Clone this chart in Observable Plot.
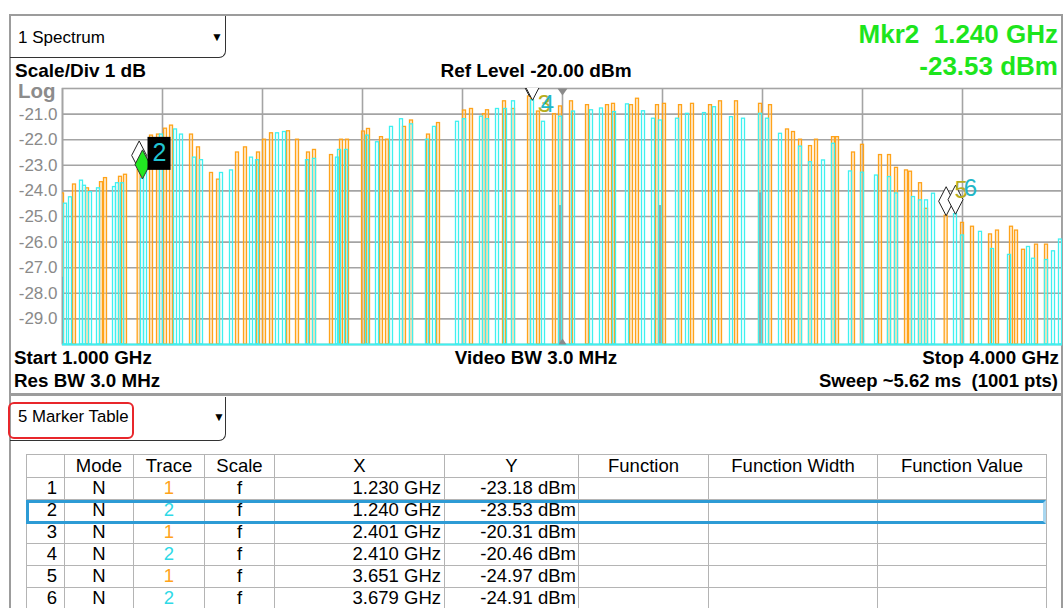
<!DOCTYPE html>
<html><head><meta charset="utf-8">
<script src="https://cdn.jsdelivr.net/npm/d3@7"></script>
<script src="https://cdn.jsdelivr.net/npm/@observablehq/plot@0.6"></script>
<style>
body{margin:0;background:#fff;font-family:"Liberation Sans",Arial,sans-serif;}
#page{position:relative;width:1063px;height:608px;overflow:hidden;background:#fff;}
.t{position:absolute;white-space:pre;line-height:1;color:#000;}
.b{font-weight:bold;}
#chart{position:absolute;left:0;top:80px;}
table.mk{position:absolute;left:26px;top:454px;border-collapse:collapse;table-layout:fixed;width:1020px;font-size:18.5px;}
table.mk td{border:1.5px solid #b4b4b4;padding:0;height:20.9px;line-height:20.9px;text-align:center;overflow:hidden;white-space:nowrap;}
table.mk tr.h td{height:22px;}
table.mk td.r{text-align:right;padding-right:3px;}
table.mk td.y{text-align:right;padding-right:2px;}
table.mk td.i{text-align:right;padding-right:7px;}
</style></head><body><div id="page">
<div style="position:absolute;left:9px;top:14px;width:1050px;height:377px;border:2px solid #9c9c9c;border-bottom-width:3px;"></div>
<div style="position:absolute;left:9px;top:394px;width:1050px;height:230px;border-left:2px solid #9c9c9c;border-right:2px solid #9c9c9c;"></div>
<div style="position:absolute;left:10px;top:16px;width:215px;height:41px;border-right:1px solid #333;border-bottom:1px solid #333;border-bottom-right-radius:7px;"></div>
<div class="t" style="left:18px;top:28.5px;font-size:17px;">1 Spectrum</div>
<div class="t" style="left:211px;top:31px;font-size:12px;">▼</div>
<div class="t b" style="left:15px;top:61px;font-size:19px;">Scale/Div 1 dB</div>
<div class="t b" style="left:336px;width:400px;text-align:center;top:61px;font-size:19px;">Ref Level -20.00 dBm</div>
<div class="t b" style="right:5px;top:21px;font-size:26px;color:#1de51d;">Mkr2  1.240 GHz</div>
<div class="t b" style="right:5px;top:53px;font-size:26px;color:#1de51d;">-23.53 dBm</div>
<div class="t b" style="left:18px;top:80.6px;font-size:20.5px;color:#8c8c8c;">Log</div>
<div class="t b" style="left:14px;top:349px;font-size:18.8px;">Start 1.000 GHz</div>
<div class="t b" style="left:336px;width:400px;text-align:center;top:349px;font-size:18.8px;">Video BW 3.0 MHz</div>
<div class="t b" style="right:4px;top:349px;font-size:18.8px;">Stop 4.000 GHz</div>
<div class="t b" style="left:14px;top:372px;font-size:18.8px;">Res BW 3.0 MHz</div>
<div class="t b" style="right:5px;top:372px;font-size:18.5px;">Sweep ~5.62 ms  (1001 pts)</div>
<div id="chart"></div>
<div style="position:absolute;left:10px;top:397px;width:215px;height:43px;border-right:1px solid #333;border-bottom:1px solid #333;border-bottom-right-radius:7px;"></div>
<div style="position:absolute;left:7.5px;top:402px;width:122px;height:33px;border:2px solid #e8262b;border-radius:6px;"></div>
<div class="t" style="left:18px;top:409px;font-size:16.8px;">5 Marker Table</div>
<div class="t" style="left:213px;top:411px;font-size:12px;">▼</div>
<table class="mk" id="mk"></table>
<div style="position:absolute;left:26px;top:499.5px;width:1014px;height:18px;border:3px solid #2d9bd5;border-right-color:#a9d7f0;"></div>
</div>
<script>
// ---- Trace 1 (orange) bursts: centre frequency (GHz) and peak level (dBm)
const trace1Freq = [1.000,1.036,1.075,1.117,1.129,1.174,1.189,1.230,1.267,1.288,1.309,1.327,1.387,1.408,1.447,1.468,1.525,1.549,1.588,1.606,1.627,1.678,1.705,1.738,1.756,1.807,1.837,1.855,1.903,1.918,1.957,1.975,2.026,2.047,2.098,2.128,2.206,2.227,2.266,2.275,2.326,2.353,2.401,2.428,2.476,2.494,2.527,2.575,2.635,2.653,2.707,2.725,2.785,2.806,2.854,2.890,2.944,2.974,3.022,3.094,3.124,3.175,3.193,3.214,3.244,3.262,3.313,3.325,3.373,3.400,3.454,3.481,3.502,3.532,3.544,3.574,3.592,3.651,3.700,3.730,3.784,3.805,3.847,3.862,3.883,3.922,3.952];
const trace1Level = [-24.1,-23.75,-23.9,-23.66,-23.5,-23.45,-23.37,-23.18,-21.84,-21.8,-21.57,-21.45,-21.8,-22.3,-23.3,-23.56,-22.5,-22.3,-22.5,-22.0,-21.75,-21.67,-22.0,-22.5,-22.4,-22.6,-22.0,-22.0,-21.68,-21.58,-21.9,-22.0,-21.5,-21.25,-21.8,-21.35,-20.86,-20.8,-21.0,-20.85,-20.5,-20.8,-20.31,-20.9,-21.0,-20.7,-20.5,-20.65,-20.65,-20.6,-20.65,-20.4,-20.65,-20.6,-20.65,-20.6,-20.65,-20.5,-20.5,-20.6,-20.65,-21.6,-21.7,-22.0,-22.25,-22.0,-21.9,-21.9,-22.5,-22.2,-22.6,-22.6,-23.1,-23.2,-23.25,-23.7,-24.7,-24.97,-25.25,-25.4,-25.7,-25.55,-25.4,-25.55,-26.3,-26.1,-26.1];
// ---- Trace 2 (cyan) bursts
const trace2Freq = [1.009,1.024,1.057,1.066,1.084,1.108,1.156,1.165,1.180,1.240,1.249,1.297,1.339,1.357,1.396,1.417,1.477,1.507,1.567,1.585,1.645,1.666,1.735,1.756,1.825,1.831,1.852,1.915,1.945,1.987,2.017,2.047,2.095,2.116,2.185,2.206,2.257,2.275,2.305,2.329,2.353,2.410,2.443,2.494,2.533,2.587,2.617,2.656,2.695,2.743,2.773,2.794,2.845,2.875,2.926,2.956,3.007,3.043,3.094,3.115,3.154,3.214,3.244,3.283,3.313,3.364,3.400,3.442,3.481,3.502,3.553,3.574,3.592,3.613,3.679,3.700,3.754,3.790,3.841,3.898,3.913,3.952,3.973,3.994];
const trace2Level = [-24.5,-24.25,-23.6,-23.8,-24.05,-23.9,-23.85,-23.7,-23.7,-23.53,-22.88,-21.8,-21.6,-21.8,-22.7,-22.8,-23.3,-23.2,-22.7,-22.8,-21.75,-21.7,-22.8,-22.75,-22.7,-22.4,-22.4,-21.84,-22.1,-21.5,-21.2,-21.4,-22.0,-21.5,-21.3,-21.2,-21.1,-21.2,-20.8,-20.8,-20.5,-20.46,-21.3,-21.1,-20.9,-20.85,-20.78,-20.92,-20.62,-20.89,-21.18,-21.25,-21.18,-20.99,-20.96,-20.73,-21.12,-21.18,-20.99,-21.18,-21.77,-22.27,-22.88,-22.81,-22.16,-23.24,-23.29,-23.4,-23.46,-24.1,-24.24,-24.37,-24.37,-24.11,-24.91,-25.74,-25.6,-26.27,-26.5,-26.19,-26.65,-26.7,-26.36,-25.9];
// ---- Trace 3 (gray) residual bursts
const trace3Freq = [1.000,2.494,2.794,3.094];
const trace3Level = [-27.4,-24.6,-24.6,-24.1];
// ---- Markers
const markerNo = [1,2,3,4,5,6];
const markerMode = ["N","N","N","N","N","N"];
const markerTrace = [1,2,1,2,1,2];
const markerScale = ["f","f","f","f","f","f"];
const markerX = [1.230,1.240,2.401,2.410,3.651,3.679];
const markerY = [-23.18,-23.53,-20.31,-20.46,-24.97,-24.91];
const activeMarker = 2;
const hiddenLabels = [1]; // covered by the active marker's label box
const centerFreq = 2.5;
// ---- Axes
const xGridTicks = [1.0,1.3,1.6,1.9,2.2,2.5,2.8,3.1,3.4,3.7,4.0];
const yTicks = [-21,-22,-23,-24,-25,-26,-27,-28,-29];
const yDomain = [-30,-20];
const tableHeaders = ["","Mode","Trace","Scale","X","Y","Function","Function Width","Function Value"];

const ORANGE="#ffa31a", ORANGE_FILL="#ffd08a", CYAN="#3ff0f0", GRAY="#9a9a9a", GRID="#a4a4a4";
const HW = 0.0045;

const t1 = trace1Freq.map((f,i)=>({f, L:trace1Level[i]}));
const t2 = trace2Freq.map((f,i)=>({f, L:trace2Level[i]}));
const t3 = trace3Freq.map((f,i)=>({f, L:trace3Level[i]}));
const mk = markerNo.map((n,i)=>({n, trace:markerTrace[i], x:markerX[i], y:markerY[i]}));

const tallDiamond = {draw(ctx){ const h=14.5, w=7.5; ctx.moveTo(0,-h); ctx.lineTo(w,0); ctx.lineTo(0,h); ctx.lineTo(-w,0); ctx.closePath(); }};
const labelBox = {draw(ctx){ ctx.moveTo(5,-42); ctx.lineTo(28,-42); ctx.lineTo(28,-9); ctx.lineTo(5,-9); ctx.closePath(); }};
const downTri = {draw(ctx){ ctx.moveTo(-5,0); ctx.lineTo(5,0); ctx.lineTo(0,7); ctx.closePath(); }};
const upTri = {draw(ctx){ ctx.moveTo(-4,0); ctx.lineTo(4,0); ctx.lineTo(0,-6); ctx.closePath(); }};

const plot = Plot.plot({
  width: 1063, height: 270,
  marginLeft: 62, marginRight: 1, marginTop: 8, marginBottom: 6,
  x: {domain: [1,4], axis: null},
  y: {domain: yDomain, axis: null},
  style: {background: "transparent", fontFamily: "Liberation Sans, Arial, sans-serif", overflow: "visible"},
  marks: [
    Plot.gridX(xGridTicks, {stroke: GRID, strokeOpacity: 1, strokeWidth: 1.6}),
    Plot.gridY(yTicks, {stroke: GRID, strokeOpacity: 1, strokeWidth: 1.6}),
    Plot.frame({stroke: GRID, strokeWidth: 1.6}),
    Plot.axisY(yTicks, {tickSize: 0, tickPadding: 5, fontSize: 17, fill: "#8a8a8a", tickFormat: d => d.toFixed(1), label: null}),
    Plot.rect(t1, {x1: d => d.f - HW, x2: d => d.f + HW, y1: -30, y2: "L", fill: ORANGE_FILL, fillOpacity: 0.4, stroke: ORANGE, strokeWidth: 1.3, clip: true}),
    Plot.rect(t3, {x1: d => d.f - HW/2, x2: d => d.f + HW/2, y1: -30, y2: "L", fill: "none", stroke: GRAY, strokeWidth: 1.3, clip: true}),
    Plot.rect(t2, {x1: d => d.f - HW, x2: d => d.f + HW, y1: -30, y2: "L", fill: "none", stroke: CYAN, strokeWidth: 1.3, clip: true}),
    Plot.ruleY([yDomain[0]], {stroke: CYAN, strokeWidth: 2}),
    Plot.dot([centerFreq], {x: d => d, y: yDomain[1], symbol: downTri, r: 5, fill: "#8a8a8a", stroke: "none"}),
    Plot.dot([centerFreq], {x: d => d, y: yDomain[0], symbol: upTri, r: 5, fill: "#8a8a8a", stroke: "none"}),
    Plot.dot(mk.filter(d => d.n !== activeMarker), {x: "x", y: "y", dy: -14.5, symbol: tallDiamond, r: 5, fill: "white", stroke: "#222", strokeWidth: 1, clip: true}),
    Plot.text(mk.filter(d => d.n !== activeMarker && !hiddenLabels.includes(d.n)), {x: "x", y: d => Math.min(d.y + 1, -20.6), dx: 15, text: d => String(d.n), fontSize: 24, fill: d => d.trace === 1 ? "#b8ad1c" : "#22b6c6"}),
    Plot.dot(mk.filter(d => d.n === activeMarker), {x: "x", y: "y", dy: -14.5, symbol: tallDiamond, r: 5, fill: "#22e822", stroke: "#333", strokeWidth: 1}),
    Plot.dot(mk.filter(d => d.n === activeMarker), {x: "x", y: "y", symbol: labelBox, r: 5, fill: "#000", stroke: "none"}),
    Plot.text(mk.filter(d => d.n === activeMarker), {x: "x", y: d => d.y + 1, dx: 17, text: d => String(d.n), fontSize: 25, fill: "#22c4d2"})
  ]
});
document.getElementById("chart").appendChild(plot);

// marker table
const tbl = document.getElementById("mk");
const colW = [38,69,71,70,170,134,130,169,169];
let html = "<colgroup>" + colW.map(w => `<col style="width:${w}px">`).join("") + "</colgroup>";
html += '<tr class="h">' + tableHeaders.map(h => `<td>${h}</td>`).join("") + "</tr>";
markerNo.forEach((n,i) => {
  const col = markerTrace[i] === 1 ? ORANGE : "#2fd9e6";
  html += `<tr><td class="i">${n}</td><td>${markerMode[i]}</td><td style="color:${col}">${markerTrace[i]}</td><td>${markerScale[i]}</td><td class="r">${markerX[i].toFixed(3)} GHz</td><td class="y">${markerY[i].toFixed(2)} dBm</td><td></td><td></td><td></td></tr>`;
});
tbl.innerHTML = html;
</script>
</body></html>
